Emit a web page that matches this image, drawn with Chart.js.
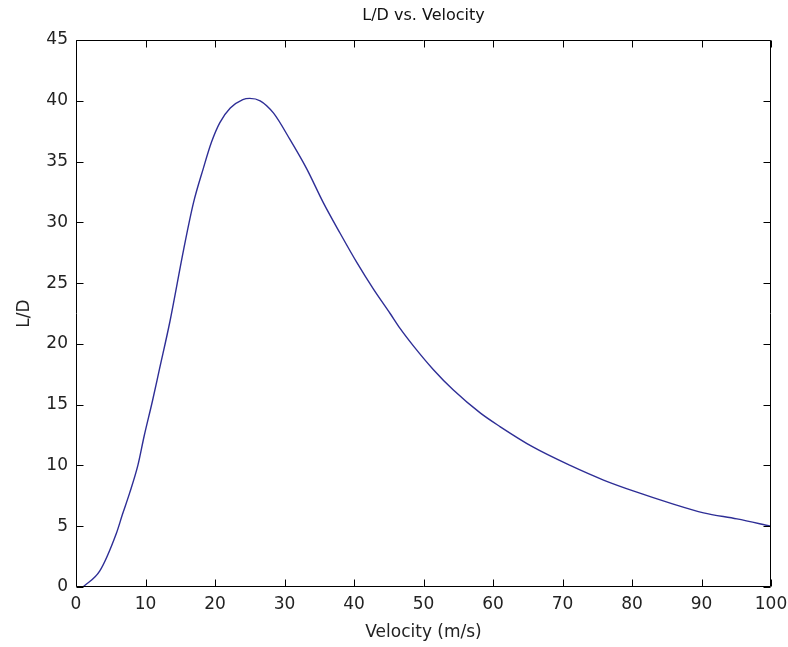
<!DOCTYPE html>
<html>
<head>
<meta charset="utf-8">
<script src="https://cdn.jsdelivr.net/npm/chart.js@4/dist/chart.umd.min.js"></script>
<style>
  html, body { margin: 0; padding: 0; background: #fff; }
  #wrap { width: 788px; height: 647px; position: relative; }
</style>
</head>
<body>
<div id="wrap"><canvas id="c" width="788" height="647"></canvas></div>
<script>
// Velocity (m/s)
const velocity = [1, 3.4, 5.8, 6.7, 7.7, 8.9, 9.8, 11, 12, 13.5, 15.5, 16.9, 18.3, 19.5, 20.7, 22.2, 24, 25, 26.5, 28.4, 30.8, 33.2, 35.6, 38, 40.4, 42.8, 45.2, 46.6, 48.6, 51.4, 54.3, 58.2, 61, 65.8, 71.1, 75.9, 80.7, 85.5, 90.3, 95.1, 100];
// L/D
const liftToDrag = [0, 1.3, 4.4, 6.0, 7.7, 10.0, 12.4, 15.3, 17.9, 21.8, 27.8, 31.6, 34.4, 36.6, 38.2, 39.4, 40.1, 40.2, 40.0, 39.0, 36.8, 34.4, 31.6, 29.1, 26.7, 24.5, 22.5, 21.3, 19.8, 17.9, 16.2, 14.3, 13.2, 11.5, 10.0, 8.8, 7.8, 6.9, 6.1, 5.6, 5.0];
const xTicks = [0, 10, 20, 30, 40, 50, 60, 70, 80, 90, 100];
const yTicks = [0, 5, 10, 15, 20, 25, 30, 35, 40, 45];
const chartTitle = 'L/D vs. Velocity';

const FONT = 'DejaVu Sans';
const TICK_LEN = 7;

const frame = {
  id: 'frame',
  afterDatasetsDraw(chart) {
    const { ctx, chartArea: { left, right, top, bottom }, scales: { x, y } } = chart;
    ctx.save();
    ctx.strokeStyle = '#000';
    ctx.lineWidth = 1;
    const L = Math.round(left) + 0.5, R = Math.round(right) - 0.5;
    const T = Math.round(top) + 0.5, B = Math.round(bottom) - 0.5;
    ctx.beginPath();
    ctx.rect(L, T, R - L, B - T);
    ctx.stroke();
    ctx.beginPath();
    xTicks.forEach(v => {
      const px = Math.round(x.getPixelForValue(v)) + 0.5;
      ctx.moveTo(px, B); ctx.lineTo(px, B - TICK_LEN);
      ctx.moveTo(px, T); ctx.lineTo(px, T + TICK_LEN);
    });
    yTicks.forEach(v => {
      const py = Math.round(y.getPixelForValue(v)) + 0.5;
      ctx.moveTo(L, py); ctx.lineTo(L + TICK_LEN, py);
      ctx.moveTo(R, py); ctx.lineTo(R - TICK_LEN, py);
    });
    ctx.stroke();
    ctx.restore();
  }
};

new Chart(document.getElementById('c'), {
  type: 'scatter',
  data: {
    datasets: [{
      data: velocity.map((v, i) => ({ x: v, y: liftToDrag[i] })),
      showLine: true,
      borderColor: '#2e2e96',
      borderWidth: 1.4,
      pointRadius: 0,
      cubicInterpolationMode: 'monotone',
      fill: false,
      xAxisID: 'x',
      yAxisID: 'y'
    }]
  },
  options: {
    responsive: false,
    animation: false,
    devicePixelRatio: 1,
    layout: { padding: { left: 0, right: 17, top: 0, bottom: 0 } },
    plugins: {
      legend: { display: false },
      tooltip: { enabled: false },
      title: { display: false }
    },
    scales: {
      x: {
        type: 'linear',
        position: 'bottom',
        min: 0, max: 100,
        afterBuildTicks: s => { s.ticks = xTicks.map(v => ({ value: v })); },
        afterFit: s => { s.height = 60; s.paddingRight = 0; s.paddingLeft = 0; },
        grid: { display: false, drawTicks: false },
        border: { display: false },
        ticks: { color: '#222', font: { family: FONT, size: 17 }, padding: 7, maxRotation: 0 },
        title: {
          display: true, text: 'Velocity (m/s)', color: '#222',
          font: { family: FONT, size: 17 }, padding: { top: 0, bottom: 4 }
        }
      },
      xTop: {
        type: 'linear',
        position: 'top',
        min: 0, max: 100,
        afterFit: s => { s.height = 40; s.paddingRight = 0; s.paddingLeft = 0; },
        grid: { display: false, drawTicks: false },
        border: { display: false },
        ticks: { display: false },
        title: {
          display: true, text: chartTitle, color: '#111',
          font: { family: FONT, size: 16 }, padding: { top: 6, bottom: 0 }
        }
      },
      y: {
        type: 'linear',
        min: 0, max: 45,
        afterBuildTicks: s => { s.ticks = yTicks.map(v => ({ value: v })); },
        afterFit: s => { s.width = 76; s.paddingTop = 0; s.paddingBottom = 0; },
        grid: { display: false, drawTicks: false },
        border: { display: false },
        ticks: { color: '#222', font: { family: FONT, size: 17 }, padding: 8 },
        title: {
          display: true, text: 'L/D', color: '#222',
          font: { family: FONT, size: 17 }, padding: { top: 14, bottom: 0 }
        }
      }
    }
  },
  plugins: [frame]
});
</script>
</body>
</html>
